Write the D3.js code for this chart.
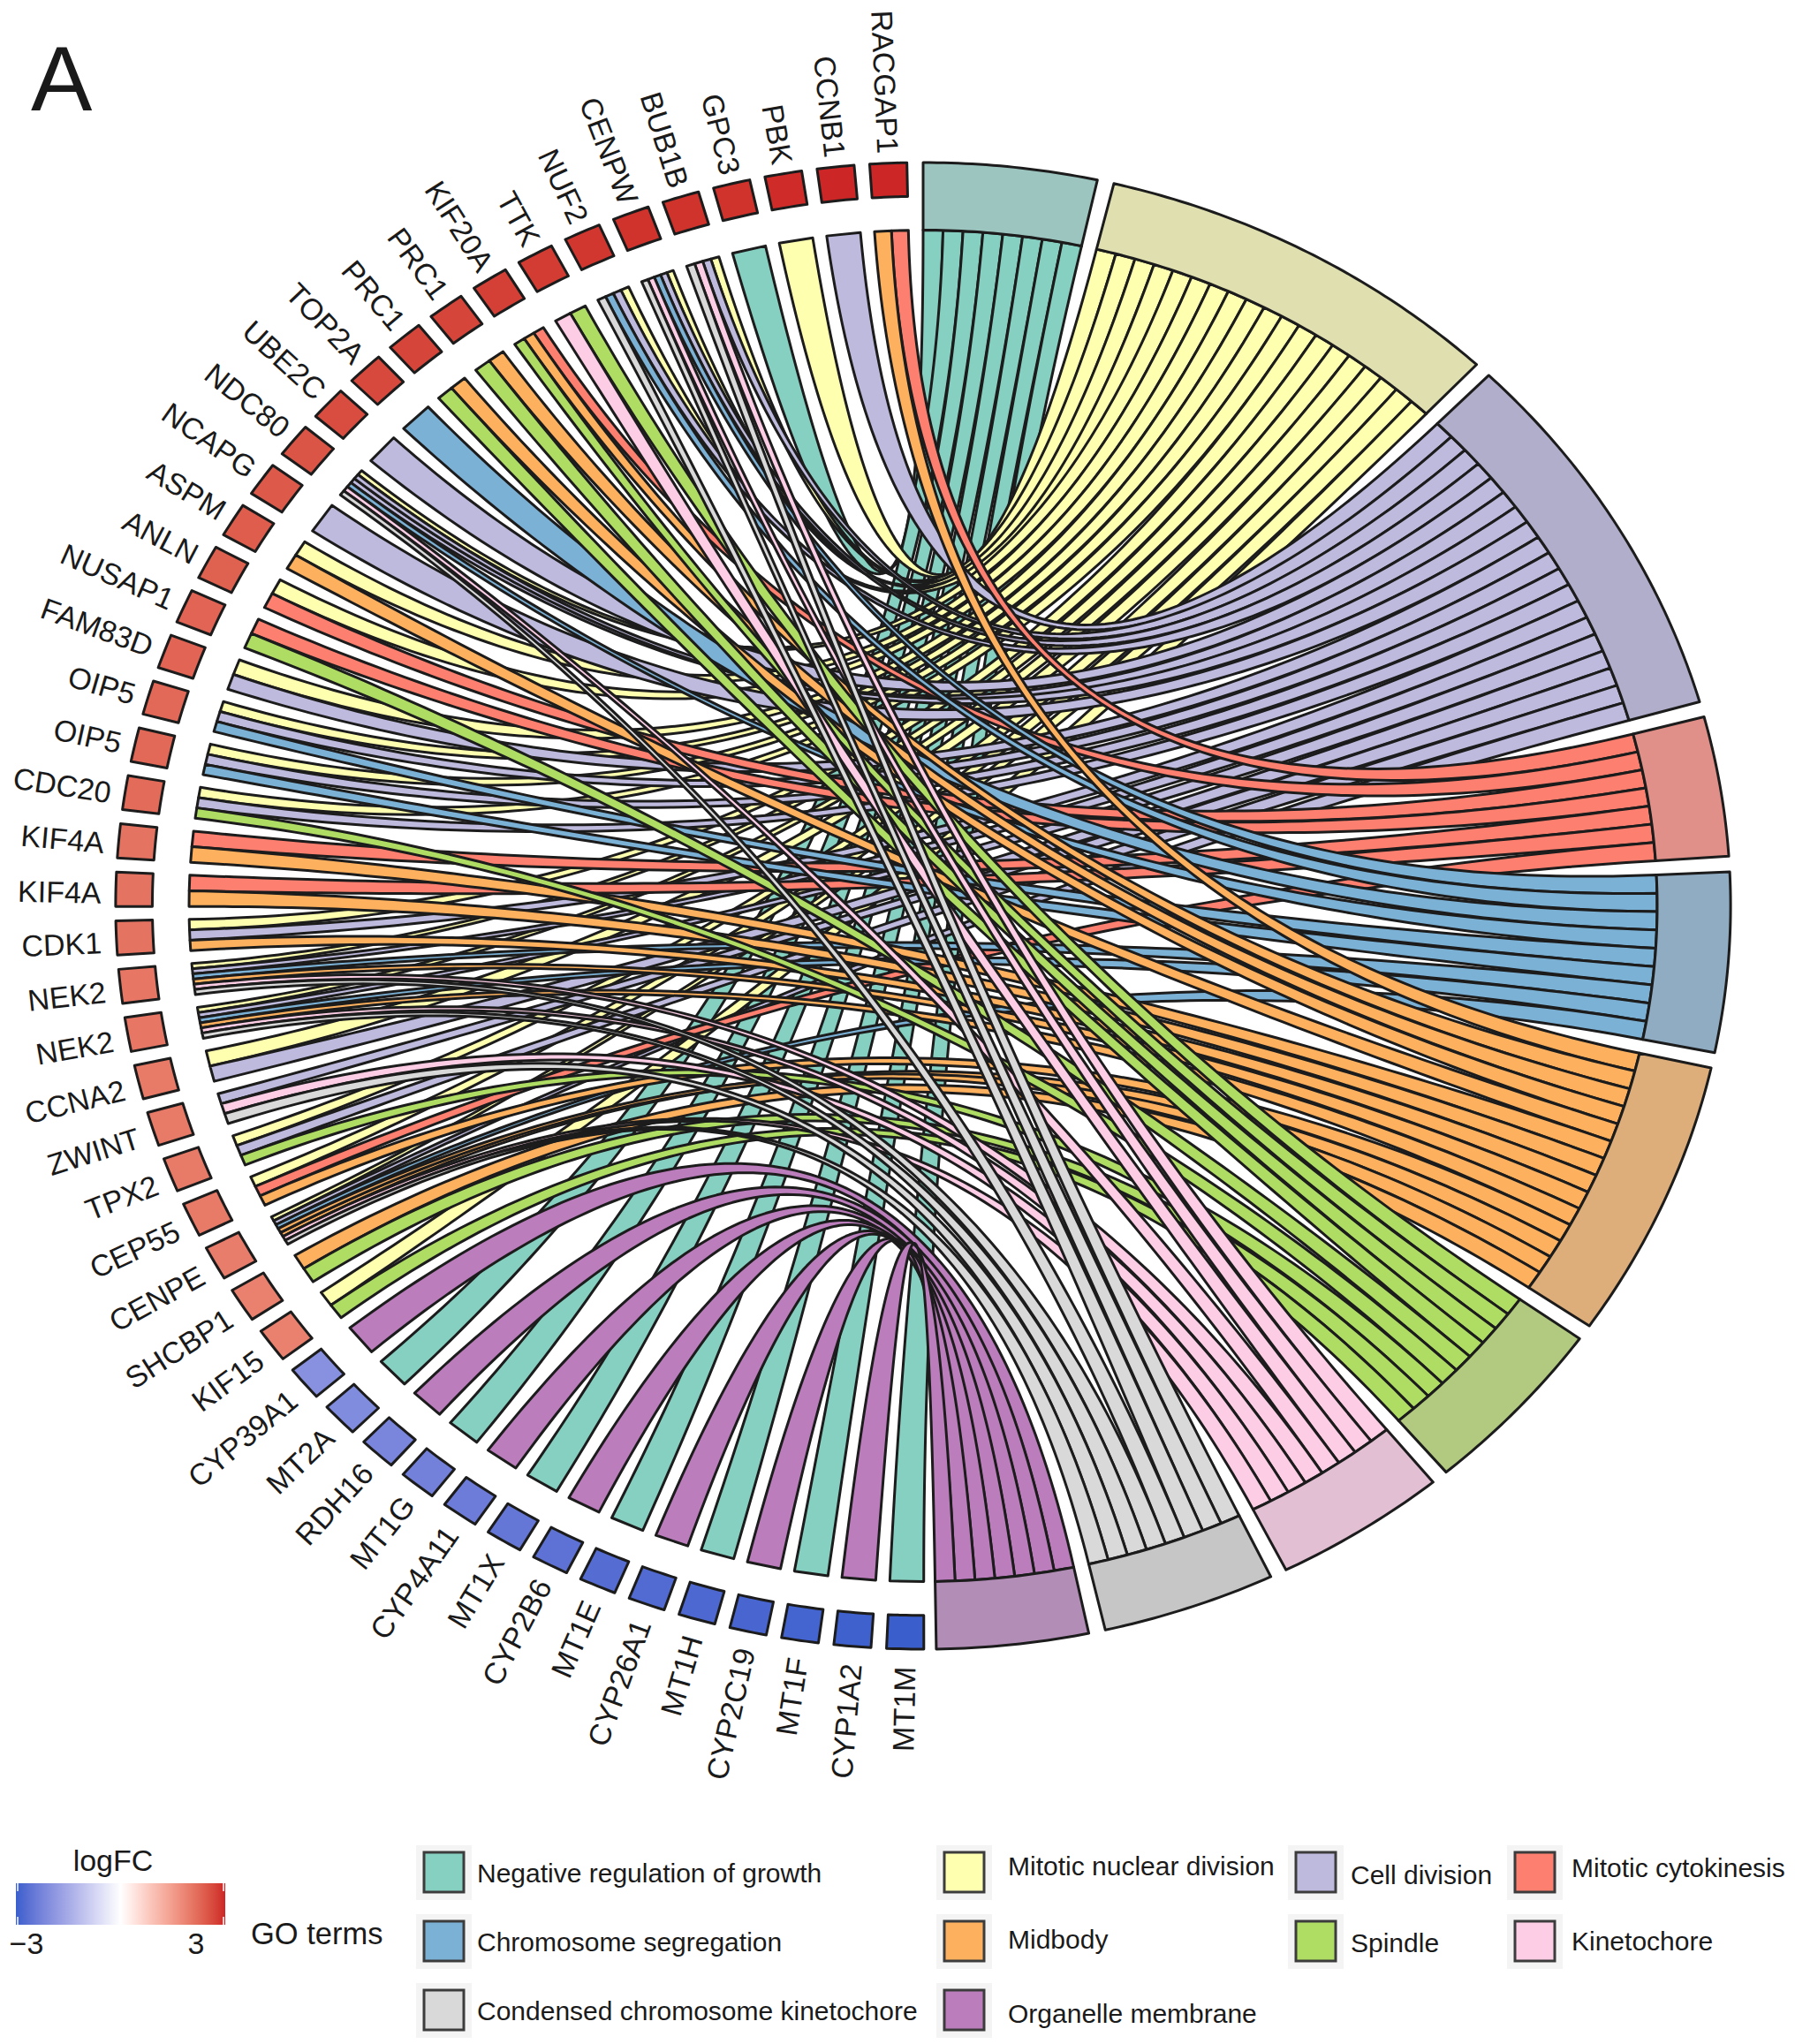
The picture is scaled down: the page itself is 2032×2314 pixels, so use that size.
<!DOCTYPE html>
<html><head><meta charset="utf-8">
<script src="https://cdn.jsdelivr.net/npm/d3@7"></script>
<style>html,body{margin:0;padding:0;background:#fff}svg{display:block}text{font-family:"Liberation Sans",Arial,sans-serif;fill:#1a1a1a}</style>
</head><body><svg id="c" width="2032" height="2314"></svg>
<script>
const terms=["Negative regulation of growth","Mitotic nuclear division","Cell division","Mitotic cytokinesis","Chromosome segregation","Midbody","Spindle","Kinetochore","Condensed chromosome kinetochore","Organelle membrane"];
const ribbonColors=["#86d0c2","#ffffb0","#bebadd","#fd7f6f","#7cb1d6","#fdb15f","#afdd64","#fccde5","#d9d9d9","#bb7dbc"];
const bandColors=["#9cc5bf","#dfdfb0","#b1aecb","#e09088","#8facc3","#ddae7a","#b1ca7f","#e2bfd3","#c6c6c6","#b28eb6"];
const genes=["MT1M","CYP1A2","MT1F","CYP2C19","MT1H","CYP26A1","MT1E","CYP2B6","MT1X","CYP4A11","MT1G","RDH16","MT2A","CYP39A1","KIF15","SHCBP1","CENPE","CEP55","TPX2","ZWINT","CCNA2","NEK2","NEK2","CDK1","KIF4A","KIF4A","CDC20","OIP5","OIP5","FAM83D","NUSAP1","ANLN","ASPM","NCAPG","NDC80","UBE2C","TOP2A","PRC1","PRC1","KIF20A","TTK","NUF2","CENPW","BUB1B","GPC3","PBK","CCNB1","RACGAP1"];
const logFC=[-3,-2.95,-2.9,-2.85,-2.8,-2.75,-2.7,-2.6,-2.5,-2.4,-2.3,-2.2,-2.1,-2,1.9,1.9,1.95,2,2,2,2,2.05,2.05,2.1,2.1,2.1,2.2,2.25,2.25,2.3,2.3,2.35,2.4,2.45,2.5,2.6,2.65,2.7,2.7,2.75,2.8,2.85,2.9,2.9,2.9,2.95,3,3];
const geneTerms=[[0],[9],[0],[9],[0],[9],[0],[9],[0],[9],[0],[9],[0],[9],[6,1],[6,5],[8,7,5,5,4,2,1],[5,3,1],[6,2,1],[8,7,2],[2,1],[8,7,5,4,2,1],[8,7,5,4,2,1],[5,2,1],[5,3],[5,3],[6,2,1],[4,2,1],[4,2,1],[2,1],[6,3],[3,1],[5,1],[2],[8,7,4,2,2,1],[2],[4],[6,5],[6,5],[6,5,3],[7,6],[8,4,2,1],[8,7,4,2,1],[8,7,2,1],[0],[1],[2],[5,3]];
const legendOrder=[[0,4,8],[1,5,9],[2,6],[3,7]];

const svg=d3.select("#c");
const sx=d3.scaleLinear().domain([-1,1]).range([1045-831,1045+831]);
const sy=d3.scaleLinear().domain([-1,1]).range([1025.5+765,1025.5-765]);
const rad=d=>d*Math.PI/180;
const pt=(deg,r)=>[sx(r*Math.sin(rad(deg))),sy(r*Math.cos(rad(deg)))];
const lineGen=d3.line();
const INK="#1c1c1c";
const fcColor=d3.scaleLinear().domain([-3,0,3]).range(["#3a5fcd","#ffffff","#cd2626"]).interpolate(d3.interpolateLab);

// angle layouts
const geneStep=3.75,geneWidth=2.65,geneStart=179.95;
const geneAngle=d3.scaleLinear().domain([0,1]).range([geneStart,geneStart+geneStep]);
const ribbonDeg=1.558,termGap=1.2;
const counts=terms.map((_,t)=>d3.sum(geneTerms,g=>g.filter(x=>x===t).length));
const termStart=[];let acc=0;counts.forEach(c=>{termStart.push(acc);acc+=c*ribbonDeg+termGap;});

function sector(a0,a1,r0,r1){
  const n=Math.max(4,Math.ceil((a1-a0)/0.5));
  const outer=d3.range(n+1).map(i=>pt(a0+(a1-a0)*i/n,r1));
  const inner=d3.range(n+1).map(i=>pt(a1-(a1-a0)*i/n,r0));
  return lineGen(outer.concat(inner))+"Z";
}
function bez(A,B){ // quadratic Bezier with its control point at the centre
  return d3.range(0,101).map(i=>{const t=i/100,u=(1-t)*(1-t),v=t*t;
    const a=[Math.sin(rad(A)),Math.cos(rad(A))],b=[Math.sin(rad(B)),Math.cos(rad(B))];
    return [sx(u*a[0]+v*b[0]),sy(u*a[1]+v*b[1])];});
}
// ribbons: per term, stripes clockwise meet genes counter-clockwise
const gRib=svg.append("g").attr("stroke",INK).attr("stroke-width",3).attr("stroke-linejoin","round");
terms.forEach((_,t)=>{
  const links=[];
  for(let g=genes.length-1;g>=0;g--){
    geneTerms[g].forEach((x,k)=>{if(x===t)links.push([g,k]);});
  }
  links.forEach(([g,k],i)=>{
    const a1=termStart[t]+i*ribbonDeg,a2=a1+ribbonDeg;
    const n=geneTerms[g].length,g0=geneAngle(g),w=geneWidth/n;
    const g1=g0+k*w,g2=g1+w;
    const e1=bez(a1,g2),e2=bez(a2,g1).reverse();
    gRib.append("path").attr("d",lineGen(e1.concat(e2))+"Z").attr("fill",ribbonColors[t]);
  });
});
// term bands
svg.append("g").selectAll("path").data(terms).join("path")
 .attr("d",(_,t)=>sector(termStart[t],termStart[t]+counts[t]*ribbonDeg,1,1.1))
 .attr("fill",(_,t)=>bandColors[t]).attr("stroke",INK).attr("stroke-width",3).attr("stroke-linejoin","round");
// gene squares
svg.append("g").selectAll("path").data(genes).join("path")
 .attr("d",(_,g)=>sector(geneAngle(g),geneAngle(g)+geneWidth,1.05,1.1))
 .attr("fill",(_,g)=>fcColor(logFC[g])).attr("stroke",INK).attr("stroke-width",3).attr("stroke-linejoin","round");
// gene labels
svg.append("g").selectAll("text").data(genes).join("text")
 .attr("transform",(_,g)=>{const d=geneAngle(g)+geneWidth/2,p=pt(d,1.12);return `translate(${p[0]},${p[1]+4.5}) rotate(${d-270})`;})
 .attr("text-anchor","end")
 .attr("dy",(_,g)=>{const rot=geneAngle(g)+geneWidth/2-270;return (12.2-(rot>0?7*Math.sin(rad(2*rot)):0))+"px";})
 .attr("font-size",34).text(d=>d);

// panel letter
svg.append("text").attr("x",35).attr("y",125).attr("font-size",104).text("A");

// colour bar
const barX=d3.scaleLinear().domain([-3,3]).range([18,255]);
const defs=svg.append("defs");
const grad=defs.append("linearGradient").attr("id","fc");
d3.range(0,21).forEach(i=>{const v=-3+6*i/20;grad.append("stop").attr("offset",(i*5)+"%").attr("stop-color",fcColor(v));});
svg.append("rect").attr("x",barX(-3)).attr("y",2132).attr("width",barX(3)-barX(-3)).attr("height",47).attr("fill","url(#fc)");
[-3,3].forEach(v=>{[[2132,2141],[2170,2179]].forEach(([a,b])=>{
  const xx=barX(v)+(v<0?2:-2);
  svg.append("line").attr("x1",xx).attr("x2",xx).attr("y1",a).attr("y2",b).attr("stroke","#fff").attr("stroke-width",1.5);});});
svg.append("text").attr("x",128).attr("y",2118).attr("text-anchor","middle").attr("font-size",34).text("logFC");
svg.append("text").attr("x",30).attr("y",2212).attr("text-anchor","middle").attr("font-size",34).text("\u22123");
svg.append("text").attr("x",222).attr("y",2212).attr("text-anchor","middle").attr("font-size",34).text("3");
svg.append("text").attr("x",284).attr("y",2201).attr("font-size",34.5).text("GO terms");

// legend
const colSwatch=[480,1069,1467,1715],colText=[540,1141,1529,1779];
const rowSwatch=[2097,2175,2253];
const textY=[[2120,2198,2276],[2112,2195,2279],[2122,2199],[2114,2197]];
legendOrder.forEach((col,c)=>col.forEach((t,r)=>{
  svg.append("rect").attr("x",colSwatch[c]-9).attr("y",rowSwatch[r]-8).attr("width",63).attr("height",62).attr("fill","#f4f4f4");
  svg.append("rect").attr("x",colSwatch[c]).attr("y",rowSwatch[r]).attr("width",45).attr("height",45).attr("fill",ribbonColors[t]).attr("stroke","#3c3c3c").attr("stroke-width",3);
  svg.append("text").attr("x",colText[c]).attr("y",textY[c][r]).attr("dy","0.36em").attr("font-size",30).text(terms[t]);
}));
</script></body></html>
